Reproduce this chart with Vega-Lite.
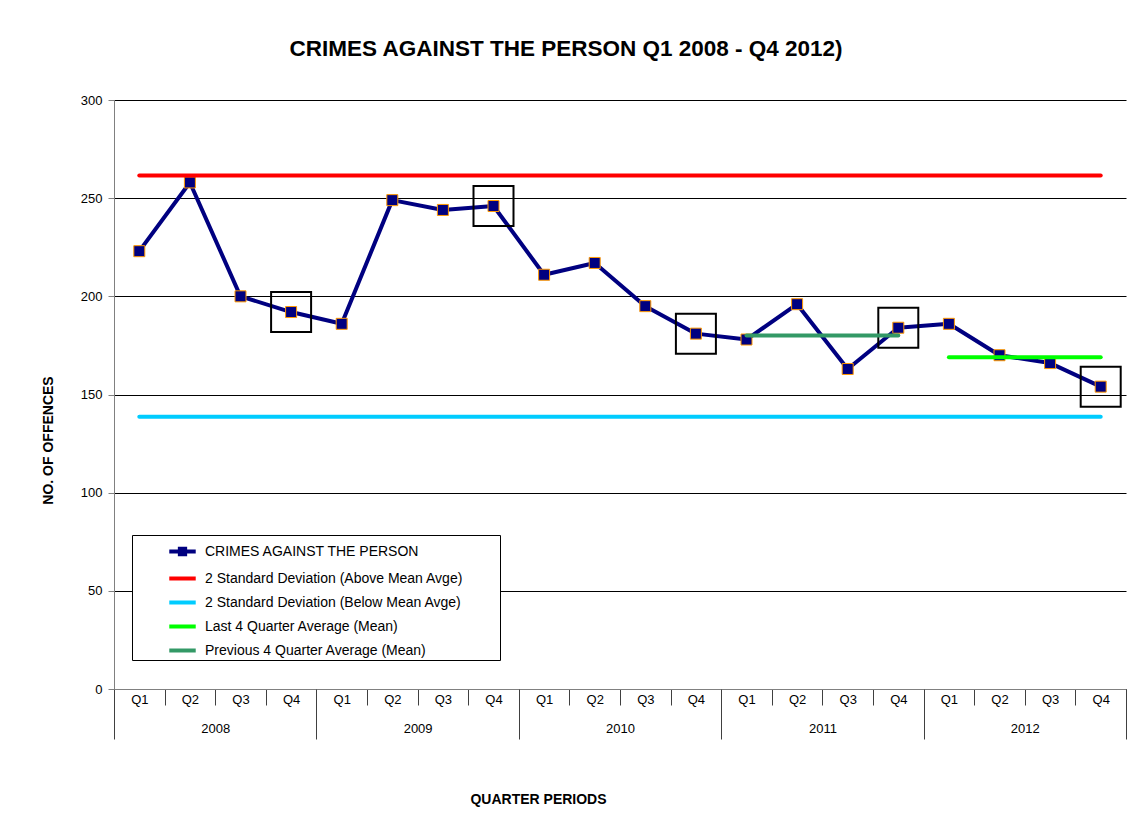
{
  "$schema": "https://vega.github.io/schema/vega-lite/v6.json",
  "width": 1012,
  "height": 589,
  "autosize": {"type": "none"},
  "padding": {"left": 114, "top": 100, "right": 21, "bottom": 146},
  "background": "white",
  "title": {
    "text": "CRIMES AGAINST THE PERSON Q1 2008 - Q4 2012)",
    "font": "Liberation Sans",
    "fontSize": 22.5,
    "fontWeight": "bold",
    "color": "black",
    "anchor": "middle",
    "dx": -54,
    "offset": 34
  },
  "config": {
    "view": {"stroke": null},
    "font": "Liberation Sans"
  },
  "datasets": {
    "main": [
      {"period": "2008 Q1", "year": "2008", "quarter": "Q1", "value": 223},
      {"period": "2008 Q2", "year": "2008", "quarter": "Q2", "value": 258},
      {"period": "2008 Q3", "year": "2008", "quarter": "Q3", "value": 200},
      {"period": "2008 Q4", "year": "2008", "quarter": "Q4", "value": 192},
      {"period": "2009 Q1", "year": "2009", "quarter": "Q1", "value": 186},
      {"period": "2009 Q2", "year": "2009", "quarter": "Q2", "value": 249},
      {"period": "2009 Q3", "year": "2009", "quarter": "Q3", "value": 244},
      {"period": "2009 Q4", "year": "2009", "quarter": "Q4", "value": 246},
      {"period": "2010 Q1", "year": "2010", "quarter": "Q1", "value": 211},
      {"period": "2010 Q2", "year": "2010", "quarter": "Q2", "value": 217},
      {"period": "2010 Q3", "year": "2010", "quarter": "Q3", "value": 195},
      {"period": "2010 Q4", "year": "2010", "quarter": "Q4", "value": 181},
      {"period": "2011 Q1", "year": "2011", "quarter": "Q1", "value": 178},
      {"period": "2011 Q2", "year": "2011", "quarter": "Q2", "value": 196},
      {"period": "2011 Q3", "year": "2011", "quarter": "Q3", "value": 163},
      {"period": "2011 Q4", "year": "2011", "quarter": "Q4", "value": 184},
      {"period": "2012 Q1", "year": "2012", "quarter": "Q1", "value": 186},
      {"period": "2012 Q2", "year": "2012", "quarter": "Q2", "value": 170},
      {"period": "2012 Q3", "year": "2012", "quarter": "Q3", "value": 166},
      {"period": "2012 Q4", "year": "2012", "quarter": "Q4", "value": 154}
    ],
    "refs": [
      {"period": "2008 Q1", "series": "2 Standard Deviation (Above Mean Avge)", "value": 261.5},
      {"period": "2012 Q4", "series": "2 Standard Deviation (Above Mean Avge)", "value": 261.5},
      {"period": "2008 Q1", "series": "2 Standard Deviation (Below Mean Avge)", "value": 138.7},
      {"period": "2012 Q4", "series": "2 Standard Deviation (Below Mean Avge)", "value": 138.7},
      {"period": "2012 Q1", "series": "Last 4 Quarter Average (Mean)", "value": 169},
      {"period": "2012 Q4", "series": "Last 4 Quarter Average (Mean)", "value": 169},
      {"period": "2011 Q1", "series": "Previous 4 Quarter Average (Mean)", "value": 180},
      {"period": "2011 Q4", "series": "Previous 4 Quarter Average (Mean)", "value": 180}
    ]
  },
  "layer": [
    {
      "encoding": {
        "x": {
          "field": "period",
          "type": "nominal",
          "scale": {
            "type": "band",
            "paddingInner": 0,
            "paddingOuter": 0,
            "domain": ["2008 Q1","2008 Q2","2008 Q3","2008 Q4","2009 Q1","2009 Q2","2009 Q3","2009 Q4","2010 Q1","2010 Q2","2010 Q3","2010 Q4","2011 Q1","2011 Q2","2011 Q3","2011 Q4","2012 Q1","2012 Q2","2012 Q3","2012 Q4"]
          },
          "axis": {
            "title": null,
            "labelExpr": "isString(datum.value) ? substring(datum.value, 5) : ''",
            "labelAngle": 0,
            "labelFont": "Liberation Sans",
            "labelFontSize": 13,
            "labelColor": "black",
            "tickBand": "extent",
            "tickSize": 16,
            "tickColor": "#404040",
            "labelPadding": -12,
            "domainColor": "#808080",
            "grid": false
          }
        },
        "y": {
          "field": "value",
          "type": "quantitative",
          "scale": {"domain": [0, 300], "nice": false, "zero": true},
          "axis": {
            "values": [0, 50, 100, 150, 200, 250, 300],
            "title": "NO. OF OFFENCES",
            "titleFont": "Liberation Sans",
            "titleFontSize": 14,
            "titleFontWeight": "bold",
            "titleColor": "black",
            "titleX": -66,
            "titleY": 340,
            "titleBaseline": "middle",
            "titleAlign": "center",
            "titleAngle": 270,
            "labelFont": "Liberation Sans",
            "labelFontSize": 13,
            "labelColor": "black",
            "labelPadding": 6,
            "tickSize": 6,
            "tickColor": "#808080",
            "domainColor": "#808080",
            "grid": true,
            "gridColor": "black",
            "gridOpacity": 1,
            "gridWidth": 1
          }
        }
      },
      "layer": [
        {
          "data": {"name": "main"},
          "mark": {"type": "line", "strokeWidth": 4, "strokeCap": "round", "strokeJoin": "round"},
          "encoding": {
            "color": {"datum": "CRIMES AGAINST THE PERSON"}
          }
        },
        {
          "data": {"name": "main"},
          "mark": {"type": "point", "shape": "square", "size": 121, "filled": true, "fill": "#000080", "stroke": "#FF9900", "strokeWidth": 1, "opacity": 1}
        },
        {
          "data": {"name": "main"},
          "transform": [{"filter": "datum.quarter === 'Q4'"}],
          "mark": {"type": "point", "shape": "square", "size": 1600, "filled": false, "stroke": "black", "strokeWidth": 2, "opacity": 1}
        },
        {
          "data": {"name": "refs"},
          "mark": {"type": "line", "strokeWidth": 4, "strokeCap": "round"},
          "encoding": {
            "color": {
              "field": "series",
              "type": "nominal",
              "scale": {
                "domain": ["CRIMES AGAINST THE PERSON", "2 Standard Deviation (Above Mean Avge)", "2 Standard Deviation (Below Mean Avge)", "Last 4 Quarter Average (Mean)", "Previous 4 Quarter Average (Mean)"],
                "range": ["#000080", "#FF0000", "#00CCFF", "#00FF00", "#339966"]
              },
              "legend": {
                "title": "\u00a0",
                "titleOrient": "right",
                "titlePadding": 36,
                "titleFontSize": 12,
                "orient": "none",
                "legendX": 18,
                "legendY": 435,
                "direction": "vertical",
                "fillColor": "white",
                "strokeColor": "black",
                "padding": 1,
                "cornerRadius": 0,
                "symbolType": "stroke",
                "symbolStrokeWidth": 4,
                "symbolSize": 700,
                "symbolOffset": 34,
                "rowPadding": 0,
                "labelOffset": 7,
                "labelFont": "Liberation Sans",
                "labelFontSize": 14,
                "labelColor": "black",
                "labelLimit": 500,
                "encode": {
                  "symbols": {
                    "update": {
                      "shape": {"signal": "datum.value === 'CRIMES AGAINST THE PERSON' ? 'M-1,0H1M-0.2,-0.2H0.2V0.2H-0.2Z' : 'stroke'"},
                      "fill": {"signal": "datum.value === 'CRIMES AGAINST THE PERSON' ? '#000080' : 'transparent'"}
                    }
                  }
                }
              }
            }
          }
        }
      ]
    },
    {
      "data": {"name": "main"},
      "mark": {"type": "point", "opacity": 0},
      "encoding": {
        "x": {
          "field": "year",
          "type": "nominal",
          "scale": {"type": "band", "paddingInner": 0, "paddingOuter": 0, "domain": ["2008", "2009", "2010", "2011", "2012"]},
          "axis": {
            "orient": "bottom",
            "domain": false,
            "labelAngle": 0,
            "labelFont": "Liberation Sans",
            "labelFontSize": 13,
            "labelColor": "black",
            "tickBand": "extent",
            "tickSize": 50,
            "tickColor": "#404040",
            "labelPadding": -17,
            "grid": false,
            "title": "QUARTER PERIODS",
            "titleFont": "Liberation Sans",
            "titleFontSize": 14,
            "titleFontWeight": "bold",
            "titleColor": "black",
            "titleX": 424,
            "titleY": 110,
            "titleBaseline": "middle",
            "titleAlign": "center"
          }
        }
      }
    }
  ],
  "resolve": {"scale": {"x": "independent"}}
}
